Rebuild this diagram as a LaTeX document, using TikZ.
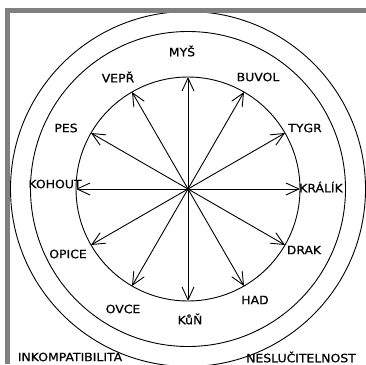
\documentclass[tikz,border=0pt]{standalone}
\usepackage{fontspec}
\setmainfont{DejaVu Sans}[FakeStretch=1.08,FakeBold=0.6]
\usetikzlibrary{arrows.meta}
\definecolor{framegrey}{HTML}{808080}
\begin{document}
\begin{tikzpicture}[x=1pt,y=-1pt,
  ring/.style={draw=black,line width=0.9pt},
  spoke/.style={draw=black,line width=0.9pt,-{Straight Barb[length=13pt,width=12pt,line width=0.9pt]}},
  lab/.style={font=\fontsize{11.5}{13}\selectfont,inner sep=0pt}]
\useasboundingbox (0,0) rectangle (366,364);
\fill[white] (0,0) rectangle (366,364);
\begin{scope}
\clip (0,0) rectangle (366,364);
\coordinate (c) at (188,189);
\draw[ring] (c) circle[radius=112];
\draw[ring] (c) circle[radius=157.5];
\draw[ring] (c) circle[radius=177.5];
\foreach \n/\a in {mys/90,buvol/60,tygr/30,kralik/0,drak/-30,had/-60,kun/-90,ovce/-120,opice/-150,kohout/180,pes/150,vepr/120}{
  \coordinate (t\n) at ([shift={(-\a:112)}]c);
  \draw[spoke] (c) -- (t\n);
}
\fill[black] (c) circle[radius=1.6];
\fill[framegrey] (5,8) rectangle (366,12.5);
\fill[framegrey] (5,8) rectangle (10,364);
\end{scope}
\node[lab] (lmys) at (182,51) {MYŠ};
\node[lab] (lvepr) at (118,77) {VEPŘ};
\node[lab] (lbuvol) at (258,77) {BUVOL};
\node[lab] (ltygr) at (305,128) {TYGR};
\node[lab] (lpes) at (66,128) {PES};
\node[lab] (lkohout) at (55,184) {KOHOUT};
\node[lab] (lkralik) at (321,187) {KRÁLÍK};
\node[lab] (lopice) at (68,254) {OPICE};
\node[lab] (ldrak) at (304,250) {DRAK};
\node[lab] (lovce) at (123,309) {OVCE};
\node[lab] (lhad) at (255,300) {HAD};
\node[lab] (lkun) at (190,319) {KůŇ};
\node[lab] (linko) at (70,357) {INKOMPATIBILITA};
\node[lab] (lnesl) at (301,357) {NESLUČITELNOST};
\end{tikzpicture}
\end{document}
